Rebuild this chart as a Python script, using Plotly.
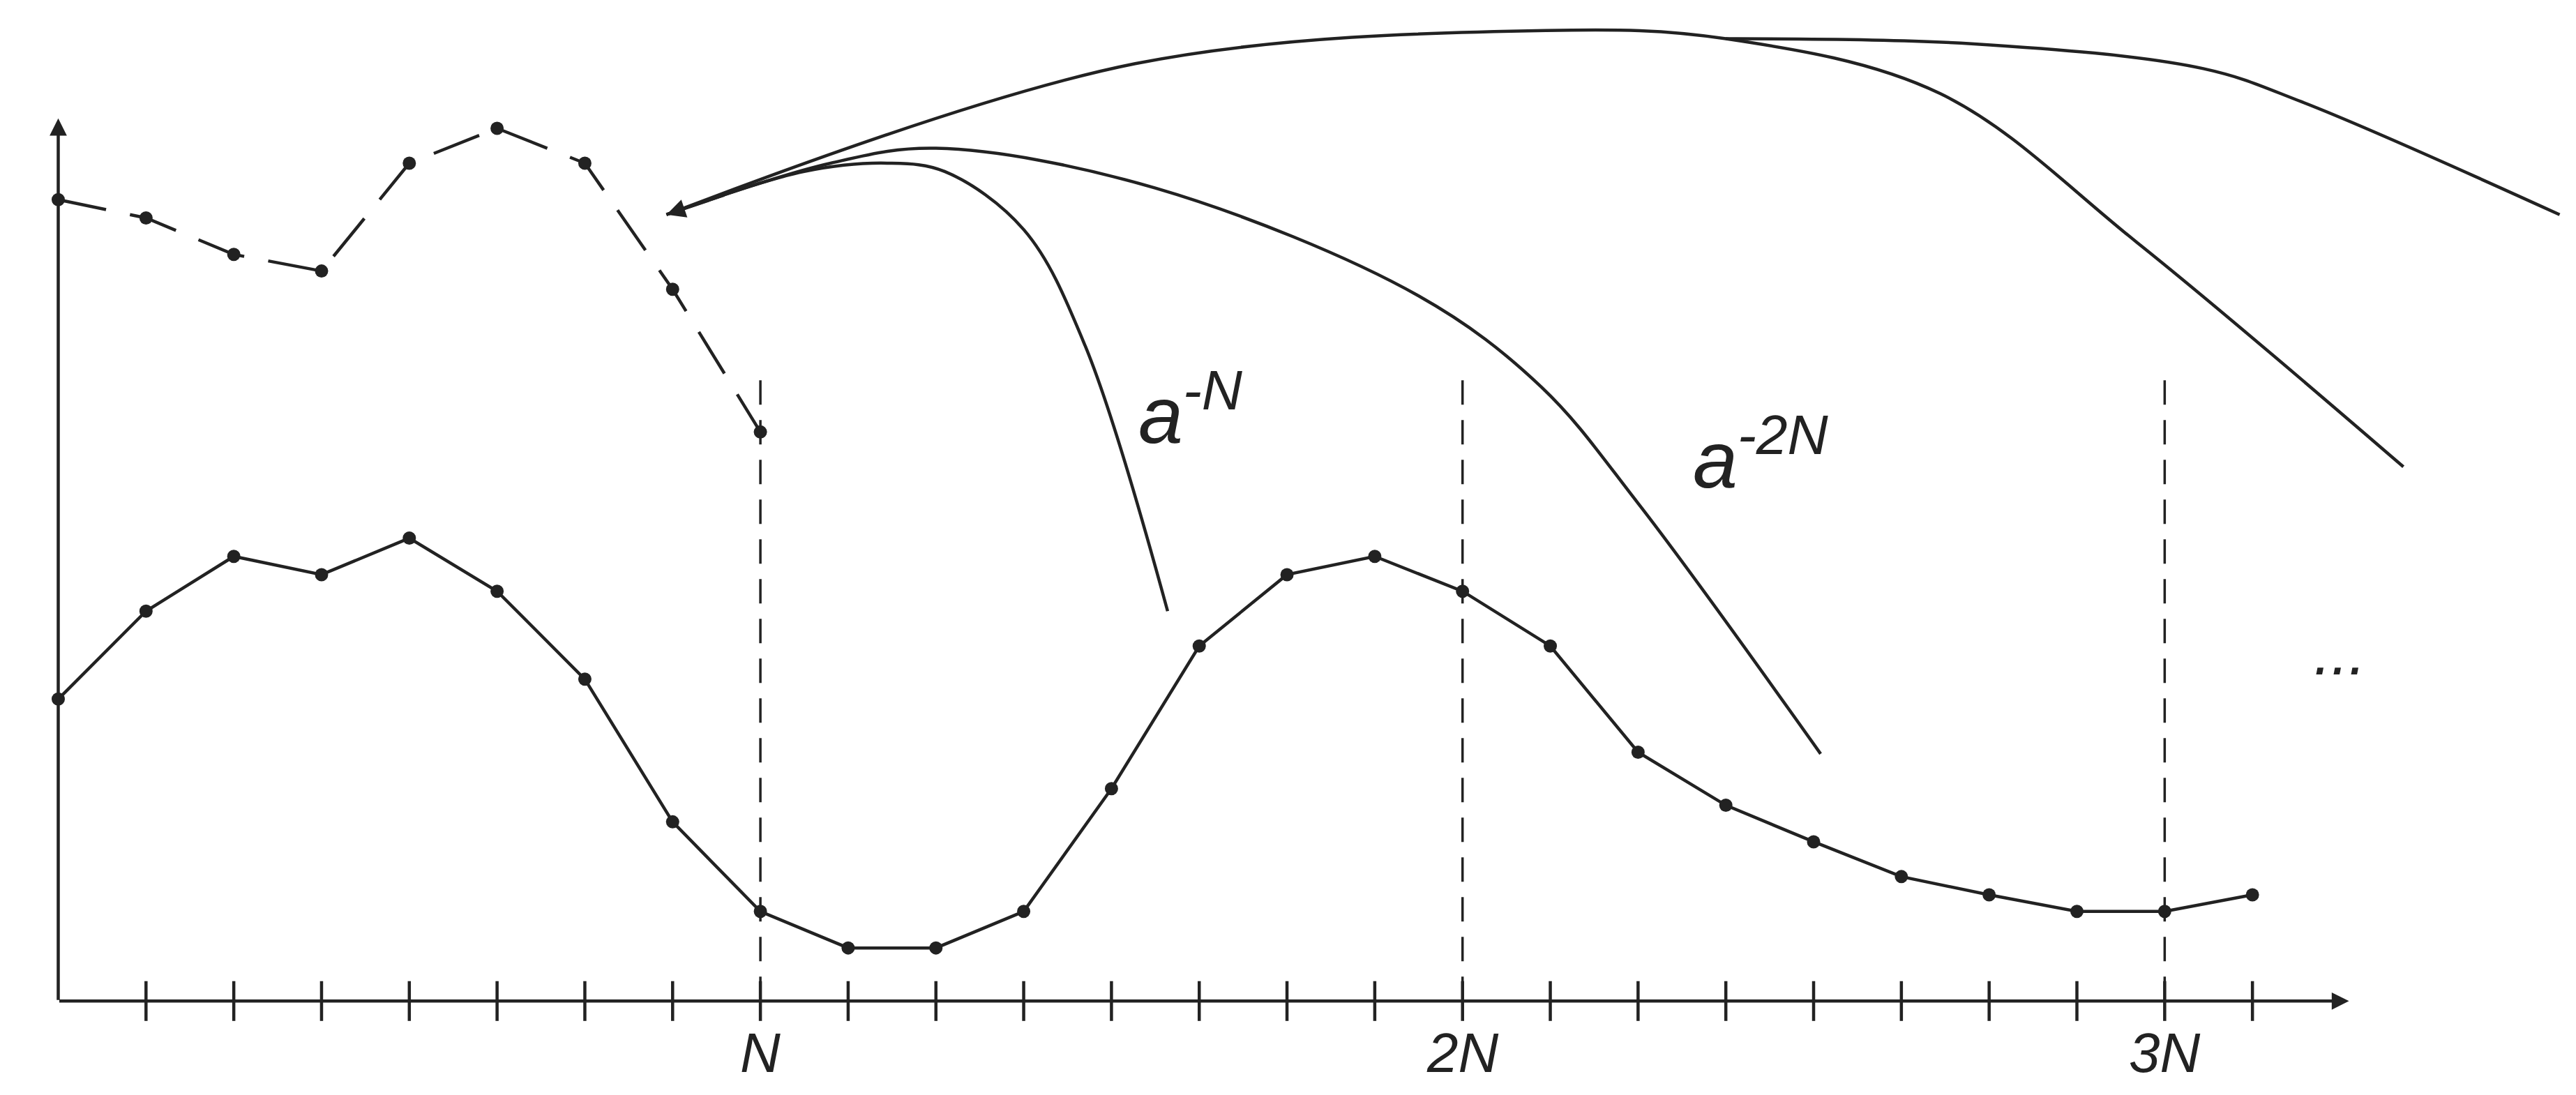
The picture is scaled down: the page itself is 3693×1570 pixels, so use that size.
import plotly.graph_objects as go

# x in sample index units, y in arbitrary units
k_solid = list(range(26))
y_solid = [182, 235, 268, 257, 279, 247, 194, 108, 54, 32, 32, 54, 128, 214, 257, 268, 247, 214, 150, 118, 96, 75, 64, 54, 54, 64]
k_dash = list(range(9))
y_dash = [483, 472, 450, 440, 505, 526, 505, 429, 343]

curve1_x = [6.93, 8.5, 9.45, 10.1, 11.0, 11.7, 12.64]
curve1_y = [474, 500, 505, 500, 465, 395, 235]
curve2_x = [6.93, 8.8, 10.0, 12.5, 15.5, 16.9, 18.0, 20.08]
curve2_y = [474, 505, 514, 490, 425, 370, 300, 149]
curve3_x = [6.93, 12.27, 16.95, 19.0, 21.44, 23.69, 26.72]
curve3_y = [474, 565, 585, 580, 547, 457, 322]
curve4_x = [19.0, 21.8, 24.44, 25.56, 28.5]
curve4_y = [580, 577, 562, 542, 474]

ticks = list(range(1, 26))
tick_labels = {8: "N", 16: "2N", 24: "3N"}

fig = go.Figure()
line = dict(color="#222", width=4.5)
for cx, cy in [(curve1_x, curve1_y), (curve2_x, curve2_y), (curve3_x, curve3_y), (curve4_x, curve4_y)]:
    fig.add_trace(go.Scatter(x=cx, y=cy, mode="lines", line=dict(color="#222", width=4.5, shape="spline", smoothing=1.0), hoverinfo="skip"))
fig.add_trace(go.Scatter(x=k_solid, y=y_solid, mode="lines+markers", line=line,
                         marker=dict(size=19, color="#222")))
fig.add_trace(go.Scatter(x=k_dash, y=y_dash, mode="lines+markers",
                         line=dict(color="#222", width=4.5, dash="70px,35px"),
                         marker=dict(size=19, color="#222")))

shapes = []
for t in ticks:
    shapes.append(dict(type="line", x0=t, x1=t, y0=-12, y1=12, line=dict(color="#222", width=4.5)))
for t in tick_labels:
    shapes.append(dict(type="line", x0=t, x1=t, y0=0, y1=377, line=dict(color="#222", width=3.5, dash="35px,22px")))
fig.update_layout(shapes=shapes)

ann = [
    dict(x=26.1, y=0, ax=0, ay=0, axref="x", ayref="y", showarrow=True, arrowhead=2, arrowsize=1.1, arrowwidth=4.5, arrowcolor="#222", text=""),
    dict(x=0, y=532, ax=0, ay=0, axref="x", ayref="y", showarrow=True, arrowhead=2, arrowsize=1.1, arrowwidth=4.5, arrowcolor="#222", text=""),
    dict(x=6.93, y=474, ax=7.6, ay=486, axref="x", ayref="y", showarrow=True, arrowhead=2, arrowsize=1.2, arrowwidth=4.5, arrowcolor="#222", text=""),
]
for t, lab in tick_labels.items():
    ann.append(dict(x=t, y=-31, text="<i>" + lab + "</i>", showarrow=False,
                    font=dict(size=80, color="#222", family="Liberation Sans")))
ann.append(dict(x=12.9, y=357, text="<i>a</i><sup><i>-N</i></sup>", showarrow=False,
                font=dict(size=115, color="#222", family="Liberation Sans")))
ann.append(dict(x=19.4, y=330, text="<i>a</i><sup><i>-2N</i></sup>", showarrow=False,
                font=dict(size=115, color="#222", family="Liberation Sans")))
ann.append(dict(x=26.0, y=210, text="<i>...</i>", showarrow=False,
                font=dict(size=90, color="#222", family="Liberation Sans")))

fig.update_layout(
    annotations=ann, width=3693, height=1570, showlegend=False,
    margin=dict(l=0, r=0, t=0, b=0), plot_bgcolor="white", paper_bgcolor="white",
    xaxis=dict(range=[-0.6, 28.75], visible=False),
    yaxis=dict(range=[-60, 600], visible=False),
)
fig.write_html("out.html")
